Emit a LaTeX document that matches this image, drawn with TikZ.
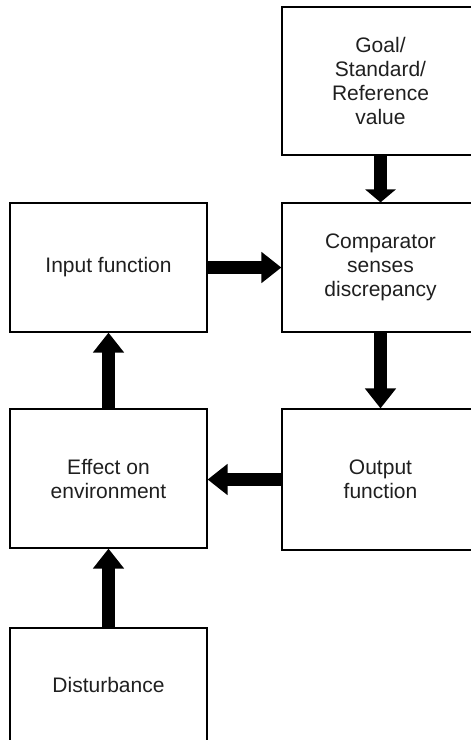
\documentclass[tikz,border=0pt]{standalone}
\usepackage{fontspec}
\setmainfont{Liberation Sans}
\usetikzlibrary{arrows.meta}
\begin{document}
\begin{tikzpicture}[x=1pt,y=-1pt,
  box/.style={draw=black, line width=1.2pt, minimum width=197pt, align=center,
    inner sep=0pt, text=black!88, font=\fontsize{21}{24}\selectfont},
  fatarrow/.style={line width=13pt, draw=black, -{Triangle[width=30pt,length=20pt]}},
  fatarrowshort/.style={line width=13pt, draw=black, -{Triangle[width=30pt,length=13pt]}}]
\useasboundingbox (0,0) rectangle (471,740);
\clip (0,0) rectangle (471,740);
\node[box, minimum height=148pt] (goal) at (380.5,81) {Goal/\\Standard/\\Reference\\value};
\node[box, minimum height=129pt] (comp) at (380.5,267.5) {Comparator\\senses\\discrepancy};
\node[box, minimum height=129pt] (inp) at (108.5,267.5) {Input function};
\node[box, minimum height=139pt] (eff) at (108.5,478.5) {Effect on\\environment};
\node[box, minimum height=141pt] (out) at (380.5,479.5) {Output\\function};
\node[box, minimum height=114pt] (dist) at (108.5,685) {Disturbance};
\draw[fatarrowshort] (goal.south) -- (comp.north);
\draw[fatarrow] (inp.east) -- (comp.west);
\draw[fatarrow] (comp.south) -- (out.north);
\draw[fatarrow] (out.west) -- (out.west -| eff.east);
\draw[fatarrow] (eff.north) -- (inp.south);
\draw[fatarrow] (dist.north) -- (eff.south);
\end{tikzpicture}
\end{document}
